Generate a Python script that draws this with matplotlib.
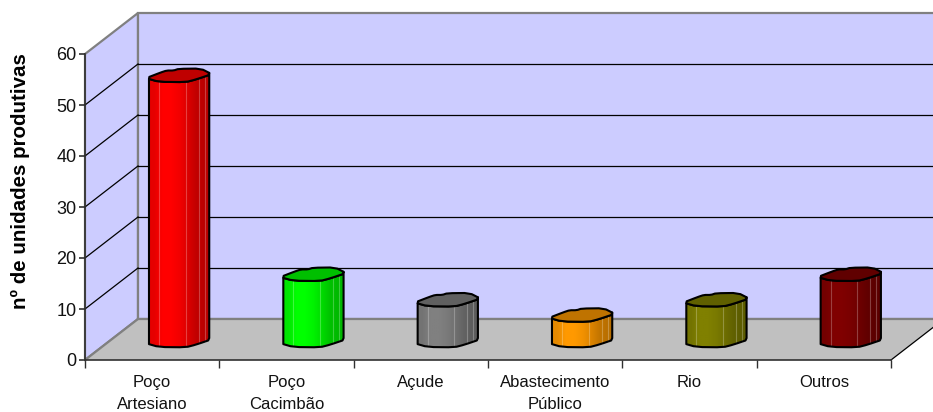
import numpy as np
import matplotlib
matplotlib.use('Agg')
import matplotlib.pyplot as plt
from matplotlib.patches import Polygon

plt.rcParams['font.family'] = ['Liberation Sans', 'DejaVu Sans']

categories = ['Poço\nArtesiano', 'Poço\nCacimbão', 'Açude', 'Abastecimento\nPúblico', 'Rio', 'Outros']
values = [52, 13, 8, 5, 8, 13]
colors = ['#ff0000', '#00ff00', '#808080', '#ff9900', '#808000', '#800000']
yticks = [0, 10, 20, 30, 40, 50, 60]

W, H = 933, 412
fig = plt.figure(figsize=(W / 100, H / 100), dpi=100)
ax = fig.add_axes([85 / W, (H - 360) / H, 806 / W, 306 / H])

# pixels per data unit, the depth of the box is given in pixels too
PX_X = 806 / 6
PX_Y = 306 / 60
DX = 53 / PX_X
DY = 41 / PX_Y
BACK_R = 6 + DX

# left wall, back wall and floor
ax.add_patch(Polygon([(0, 0), (DX, DY), (DX, 60 + DY), (0, 60)], fc='#ccccff', ec='#808080', lw=1.6, clip_on=False, zorder=1))
ax.add_patch(Polygon([(DX, DY), (BACK_R, DY), (BACK_R, 60 + DY), (DX, 60 + DY)], fc='#ccccff', ec='#808080', lw=1.6, clip_on=False, zorder=1))

for v in yticks[1:-1]:
    ax.plot([0, DX], [v, v + DY], color='black', lw=0.9, clip_on=False, zorder=2)
    ax.plot([DX, BACK_R], [v + DY, v + DY], color='black', lw=0.9, clip_on=False, zorder=2)

ax.add_patch(Polygon([(0, 0), (DX, DY), (BACK_R, DY), (6, 0)], fc='#c0c0c0', ec='none', clip_on=False, zorder=3))
ax.plot([0, DX], [0, DY], color='#808080', lw=1.6, clip_on=False, zorder=3)
ax.plot([DX, BACK_R], [DY, DY], color='#808080', lw=1.6, clip_on=False, zorder=3)
ax.plot([6, BACK_R], [0, DY], color='black', lw=0.9, clip_on=False, zorder=3)

# cross section of the columns, offsets in pixels from the column centre
rim_x = np.array([-33.5, -19, -13, -6, -1, 21, 32, 16, 6, -20.7])
rim_y = np.array([-2.8, 2.8, 4.8, 4.8, 6.5, 6.8, 1.2, -4.2, -6.8, -6.5])
facets = [-20.7, 6, 19, 25]
shade = np.array([0.9, 1.0, 1.0, 0.95, 0.86, 0.76, 0.72])


def round_corners(x, y, cut=0.22):
    # one pass of corner cutting so the rim reads as a soft outline
    xn, yn = np.roll(x, -1), np.roll(y, -1)
    out_x = np.column_stack([x + cut * (xn - x), xn - cut * (xn - x)]).ravel()
    out_y = np.column_stack([y + cut * (yn - y), yn - cut * (yn - y)]).ravel()
    return out_x, out_y


soft_x, soft_y = round_corners(rim_x, rim_y)
# the edges from the right corner round the front to the left corner
front = np.arange(19, 10, -1)

for i, (val, col) in enumerate(zip(values, colors)):
    cx = i + 0.5 + DX / 2 + 1 / PX_X
    cy = DY / 2 - 0.2
    rgb = np.array(matplotlib.colors.to_rgb(col))

    top = np.column_stack([cx + soft_x / PX_X, cy + val + soft_y / PX_Y])
    low = np.column_stack([cx + soft_x / PX_X, cy + soft_y / PX_Y])
    body = np.vstack([top[front], low[front][::-1]])

    grad = (shade[:, None] * rgb)[None, :, :]
    im = ax.imshow(grad, extent=[cx - 30 / PX_X, cx + 29 / PX_X, cy - 8, cy + val + 8],
                   aspect='auto', interpolation='bilinear', zorder=4)
    clip = Polygon(body, transform=ax.transData, fc='none', ec='none')
    im.set_clip_path(clip)

    # pale lines between the faces of the column
    for fx in facets:
        x = cx + fx / PX_X
        yb = np.interp(fx, soft_x[front], soft_y[front]) / PX_Y
        ax.plot([x, x], [cy + yb, cy + val + yb], color='white', alpha=0.25, lw=0.8, zorder=5)

    ax.add_patch(Polygon(body, fc='none', ec='black', lw=1.5, joinstyle='round', clip_on=False, zorder=6))
    ax.add_patch(Polygon(top, fc=rgb * 0.75, ec='black', lw=1.5, joinstyle='round', clip_on=False, zorder=7))

ax.set_xlim(0, 6)
ax.set_ylim(0, 60)
ax.patch.set_visible(False)

for s in ['top', 'right']:
    ax.spines[s].set_visible(False)
for s in ['left', 'bottom']:
    ax.spines[s].set_color('#303030')
    ax.spines[s].set_linewidth(1.2)
    ax.spines[s].set_zorder(8)

ax.set_yticks(yticks)
ax.tick_params(axis='y', length=4, width=1.2, color='#303030', pad=2, labelsize=13, labelcolor='#111111')
ax.set_xticks(range(7))
ax.set_xticklabels([])
ax.set_xticks(np.arange(6) + 0.5, categories, minor=True, fontsize=12, linespacing=1.6, color='#111111')
ax.tick_params(axis='x', which='major', length=6, width=1.0, color='#303030')
ax.tick_params(axis='x', which='minor', length=0, pad=11)

fig.text(20 / W, 1 - 181 / H, 'nº de unidades produtivas', rotation=90, fontsize=14.8, fontweight='bold',
         ha='center', va='center', color='black')

fig.savefig('out.png', dpi=100, facecolor='white')
